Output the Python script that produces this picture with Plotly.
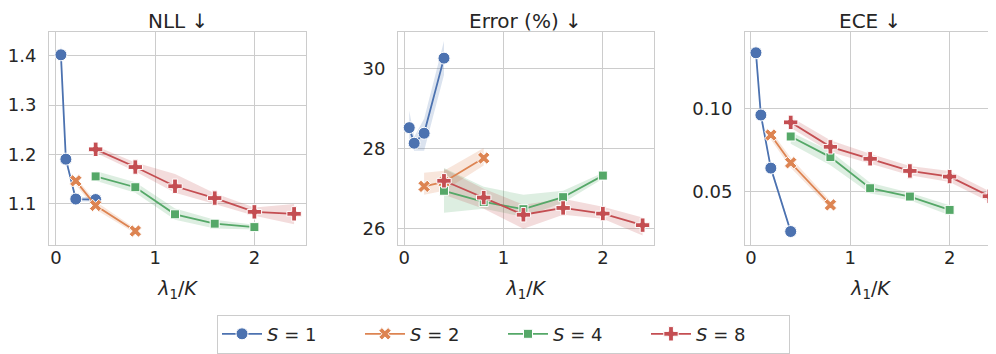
import plotly.graph_objects as go

# ---- data ----
SERIES = ["1", "2", "4", "8"]
X_S1 = [0.05, 0.1, 0.2, 0.4]
X_S2 = [0.2, 0.4, 0.8]
X_S4 = [0.4, 0.8, 1.2, 1.6, 2.0]
X_S8 = [0.4, 0.8, 1.2, 1.6, 2.0, 2.4]

NLL_S1 = [1.402, 1.190, 1.109, 1.108]
NLL_S2 = [1.146, 1.096, 1.044]
NLL_S4 = [1.155, 1.133, 1.078, 1.059, 1.052]
NLL_S8 = [1.210, 1.174, 1.135, 1.111, 1.083, 1.079]
NLL_S1_LO = [1.392, 1.185, 1.104, 1.104]
NLL_S1_HI = [1.428, 1.196, 1.113, 1.113]
NLL_S2_LO = [1.138, 1.088, 1.039]
NLL_S2_HI = [1.153, 1.104, 1.049]
NLL_S4_LO = [1.146, 1.122, 1.067, 1.049, 1.047]
NLL_S4_HI = [1.166, 1.143, 1.090, 1.067, 1.057]
NLL_S8_LO = [1.203, 1.165, 1.122, 1.099, 1.075, 1.058]
NLL_S8_HI = [1.217, 1.183, 1.160, 1.121, 1.092, 1.099]

ERR_S1 = [28.53, 28.14, 28.39, 30.27]
ERR_S2 = [27.06, 27.17, 27.77]
ERR_S4 = [26.95, 26.67, 26.49, 26.79, 27.33]
ERR_S8 = [27.20, 26.78, 26.35, 26.52, 26.38, 26.09]
ERR_S1_LO = [28.20, 27.95, 27.95, 29.85]
ERR_S1_HI = [28.95, 28.30, 28.75, 30.70]
ERR_S2_LO = [26.85, 26.95, 27.58]
ERR_S2_HI = [27.40, 27.45, 28.02]
ERR_S4_LO = [26.40, 26.50, 26.30, 26.65, 27.25]
ERR_S4_HI = [27.52, 27.05, 26.85, 26.95, 27.40]
ERR_S8_LO = [26.85, 26.50, 26.00, 26.35, 26.25, 25.83]
ERR_S8_HI = [27.50, 27.00, 26.60, 26.75, 26.55, 26.28]

ECE_S1 = [0.1336, 0.0962, 0.0643, 0.0262]
ECE_S2 = [0.0842, 0.0675, 0.0422]
ECE_S4 = [0.0833, 0.0709, 0.0522, 0.0472, 0.0392]
ECE_S8 = [0.0918, 0.0771, 0.0699, 0.0626, 0.0592, 0.0474]
ECE_S1_LO = [0.1310, 0.0945, 0.0628, 0.0250]
ECE_S1_HI = [0.1404, 0.0978, 0.0658, 0.0275]
ECE_S2_LO = [0.0815, 0.0645, 0.0400]
ECE_S2_HI = [0.0868, 0.0705, 0.0445]
ECE_S4_LO = [0.0790, 0.0660, 0.0490, 0.0450, 0.0360]
ECE_S4_HI = [0.0860, 0.0745, 0.0555, 0.0495, 0.0420]
ECE_S8_LO = [0.0885, 0.0740, 0.0670, 0.0600, 0.0560, 0.0440]
ECE_S8_HI = [0.0950, 0.0810, 0.0730, 0.0655, 0.0625, 0.0505]

TITLES = ["NLL ↓", "Error (%) ↓", "ECE ↓"]
XTICKS = [0, 1, 2]
NLL_TICKS = [1.1, 1.2, 1.3, 1.4]
ERR_TICKS = [26, 28, 30]
ECE_TICKS = [0.05, 0.10]

# ---- style ----
COLORS = ["#4C72B0", "#DD8452", "#55A868", "#C44E52"]
BANDS = ["rgba(76,114,176,0.2)", "rgba(221,132,82,0.2)",
         "rgba(85,168,104,0.2)", "rgba(196,78,82,0.2)"]
SYMBOLS = ["circle", "x", "square", "cross"]
SIZES = [12, 11, 9, 12]
TEXT = "#262626"
GRID = "#cccccc"
FONT = "DejaVu Sans"

XS = [X_S1, X_S2, X_S4, X_S8]
panels = [
    ([NLL_S1, NLL_S2, NLL_S4, NLL_S8],
     [NLL_S1_LO, NLL_S2_LO, NLL_S4_LO, NLL_S8_LO],
     [NLL_S1_HI, NLL_S2_HI, NLL_S4_HI, NLL_S8_HI]),
    ([ERR_S1, ERR_S2, ERR_S4, ERR_S8],
     [ERR_S1_LO, ERR_S2_LO, ERR_S4_LO, ERR_S8_LO],
     [ERR_S1_HI, ERR_S2_HI, ERR_S4_HI, ERR_S8_HI]),
    ([ECE_S1, ECE_S2, ECE_S4, ECE_S8],
     [ECE_S1_LO, ECE_S2_LO, ECE_S4_LO, ECE_S8_LO],
     [ECE_S1_HI, ECE_S2_HI, ECE_S4_HI, ECE_S8_HI]),
]

# page body has an 8px margin: the figure starts at (8, 8) in the window
OFF = 8
W, H = 996 - OFF, 354 - OFF
fig = go.Figure()

for p, (means, los, his) in enumerate(panels):
    xa = "x" if p == 0 else f"x{p+1}"
    ya = "y" if p == 0 else f"y{p+1}"
    for s in range(4):
        xs = XS[s]
        fig.add_trace(go.Scatter(
            x=list(xs) + list(xs[::-1]),
            y=list(his[s]) + list(los[s][::-1]),
            fill="toself", fillcolor=BANDS[s], line=dict(width=0),
            mode="lines", hoverinfo="skip", showlegend=False,
            xaxis=xa, yaxis=ya))
    for s in range(4):
        fig.add_trace(go.Scatter(
            x=XS[s], y=means[s], mode="lines+markers",
            name="<i>S</i> = " + SERIES[s],
            line=dict(color=COLORS[s], width=1.8),
            marker=dict(symbol=SYMBOLS[s], size=SIZES[s], color=COLORS[s],
                        line=dict(color="white", width=1)),
            showlegend=(p == 0), legendgroup=SERIES[s],
            xaxis=xa, yaxis=ya))

def px_x(v):
    return (v - OFF) / W

def px_y(v):
    return 1 - (v - OFF) / H

x_domains = [[px_x(49), px_x(306)], [px_x(398), px_x(653.5)], [px_x(745), 1.0]]
y_domain = [px_y(246.7), px_y(32.3)]
x_ranges = [[-0.07, 2.52], [-0.063, 2.51], [-0.06, 2.467]]
y_ranges = [[1.015, 1.448], [25.585, 30.92], [0.0179, 0.146]]
y_ticks = [NLL_TICKS, ERR_TICKS, ECE_TICKS]
y_fmt = [".1f", "d", ".2f"]

layout = dict(
    width=W, height=H, margin=dict(l=0, r=0, t=0, b=0),
    plot_bgcolor="white", paper_bgcolor="white",
    font=dict(family=FONT, color=TEXT, size=18),
    showlegend=True,
    legend=dict(orientation="h", x=px_x(503.5), xanchor="center",
                y=px_y(336), yanchor="middle",
                bordercolor=GRID, borderwidth=1, bgcolor="white",
                font=dict(size=18, color=TEXT), itemwidth=40,
                entrywidth=88, entrywidthmode="pixels"),
)
annotations = []
for p in range(3):
    sfx = "" if p == 0 else str(p + 1)
    layout["xaxis" + sfx] = dict(
        domain=x_domains[p], range=x_ranges[p], anchor="y" + sfx,
        tickvals=XTICKS, ticktext=[str(v) for v in XTICKS],
        showgrid=True, gridcolor=GRID, gridwidth=1, zeroline=False,
        showline=True, linecolor=GRID, linewidth=1, mirror=True,
        ticks="", ticklabelstandoff=-4, tickfont=dict(size=18, color=TEXT),
        title=dict(text="<i>λ</i><sub>1</sub>/<i>K</i>", font=dict(size=19, color=TEXT), standoff=14),
    )
    layout["yaxis" + sfx] = dict(
        domain=y_domain, range=y_ranges[p], anchor="x" + sfx,
        tickvals=y_ticks[p], tickformat=y_fmt[p],
        showgrid=True, gridcolor=GRID, gridwidth=1, zeroline=False,
        showline=True, linecolor=GRID, linewidth=1, mirror=(p < 2),
        ticks="", ticklabelstandoff=8, tickfont=dict(size=18, color=TEXT),
    )
    annotations.append(dict(
        text=TITLES[p], xref="paper", yref="paper",
        x=(x_domains[p][0] + min(x_domains[p][1], px_x(1002))) / 2, y=1.0,
        xanchor="center", yanchor="top", showarrow=False, borderpad=0,
        font=dict(size=20, color=TEXT)))
layout["annotations"] = annotations
fig.update_layout(**layout)

fig.write_html("out.html")
